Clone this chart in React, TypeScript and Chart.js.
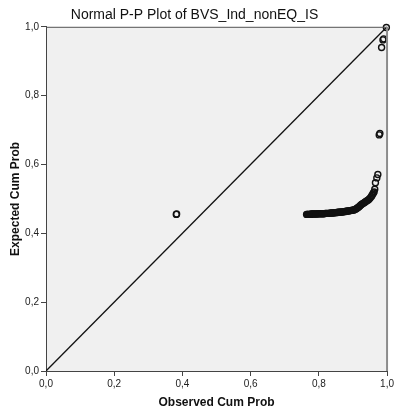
import { useEffect, useRef } from 'react';
import { Chart, registerables } from 'chart.js';

Chart.register(...registerables);

const chartTitle = 'Normal P-P Plot of BVS_Ind_nonEQ_IS';
const xAxisTitle = 'Observed Cum Prob';
const yAxisTitle = 'Expected Cum Prob';

const observedCumProb = [
  0.382, 0.383,
  0.764, 0.766, 0.768, 0.770, 0.772, 0.774, 0.776, 0.778, 0.780, 0.783,
  0.786, 0.789, 0.792, 0.795, 0.798, 0.801, 0.804, 0.807, 0.810, 0.813,
  0.816, 0.819, 0.822, 0.825, 0.828, 0.831, 0.834, 0.837, 0.840, 0.843,
  0.846, 0.849, 0.852, 0.855, 0.858, 0.861, 0.864, 0.867, 0.870, 0.873,
  0.876, 0.879, 0.882, 0.885, 0.888, 0.891, 0.894, 0.897, 0.900, 0.903,
  0.906, 0.909, 0.912, 0.915, 0.918, 0.921, 0.924, 0.927, 0.930, 0.933,
  0.936, 0.939, 0.942, 0.945, 0.948, 0.951, 0.954, 0.956, 0.958, 0.960,
  0.962, 0.964, 0.966, 0.970, 0.973, 0.977, 0.979, 0.984, 0.988, 0.990,
  0.998,
];
const expectedCumProb = [
  0.455, 0.456,
  0.455, 0.455, 0.455, 0.455, 0.455, 0.455, 0.455, 0.456, 0.456, 0.456,
  0.456, 0.456, 0.456, 0.456, 0.457, 0.457, 0.457, 0.457, 0.457, 0.457,
  0.457, 0.458, 0.458, 0.458, 0.458, 0.458, 0.459, 0.459, 0.459, 0.459,
  0.460, 0.460, 0.460, 0.461, 0.461, 0.461, 0.462, 0.462, 0.462, 0.463,
  0.463, 0.464, 0.464, 0.465, 0.465, 0.466, 0.466, 0.467, 0.467, 0.468,
  0.469, 0.471, 0.473, 0.475, 0.477, 0.480, 0.483, 0.485, 0.487, 0.489,
  0.491, 0.493, 0.495, 0.497, 0.500, 0.503, 0.507, 0.510, 0.514, 0.517,
  0.520, 0.528, 0.547, 0.561, 0.571, 0.686, 0.690, 0.940, 0.962, 0.965,
  0.998,
];
const referenceLineX = [0, 1];
const referenceLineY = [0, 1];
const axisMin = 0;
const axisMax = 1;
const tickStep = 0.2;

const fmt = (v: number) => v.toFixed(1).replace('.', ',');

export default function App() {
  const ref = useRef<HTMLCanvasElement>(null);

  useEffect(() => {
    document.body.style.margin = '0';
    const canvas = ref.current;
    if (!canvas) return;
    Chart.defaults.font.family = 'Arial, "Liberation Sans", sans-serif';

    const framePlugin = {
      id: 'framePlugin',
      beforeDraw(chart: any) {
        const { ctx, chartArea } = chart;
        ctx.save();
        ctx.fillStyle = '#ffffff';
        ctx.fillRect(0, 0, chart.width, chart.height);
        ctx.fillStyle = '#f0f0f0';
        ctx.fillRect(chartArea.left, chartArea.top, chartArea.right - chartArea.left, chartArea.bottom - chartArea.top);
        ctx.restore();
      },
      afterDraw(chart: any) {
        const { ctx, chartArea } = chart;
        ctx.save();
        ctx.strokeStyle = '#555555';
        ctx.lineWidth = 1;
        ctx.beginPath();
        ctx.moveTo(chartArea.left, chartArea.top + 0.5);
        ctx.lineTo(chartArea.right, chartArea.top + 0.5);
        ctx.stroke();
        ctx.strokeStyle = '#8c8c8c';
        ctx.lineWidth = 2;
        ctx.beginPath();
        ctx.moveTo(chartArea.right, chartArea.top);
        ctx.lineTo(chartArea.right, chartArea.bottom);
        ctx.stroke();
        ctx.restore();
      },
    };

    const points = observedCumProb.map((x, i) => ({ x, y: expectedCumProb[i] }));
    const line = referenceLineX.map((x, i) => ({ x, y: referenceLineY[i] }));

    const chart = new Chart(canvas, {
      type: 'scatter',
      data: {
        datasets: [
          {
            type: 'line',
            data: line,
            borderColor: '#111111',
            borderWidth: 1.3,
            pointRadius: 0,
            fill: false,
          } as any,
          {
            type: 'scatter',
            data: points,
            pointStyle: 'circle',
            pointRadius: 3,
            borderColor: '#111111',
            backgroundColor: 'rgba(0,0,0,0)',
            borderWidth: 1.4,
            clip: false,
          } as any,
        ],
      },
      options: {
        responsive: false,
        animation: false,
        layout: { padding: { left: 0, right: 7, top: 0, bottom: 0 } },
        plugins: {
          legend: { display: false },
          tooltip: { enabled: false },
          title: {
            display: true,
            text: chartTitle,
            color: '#111111',
            font: { size: 14, weight: 'normal' },
            padding: { top: 7, bottom: 3 },
          },
        },
        scales: {
          x: {
            type: 'linear',
            min: axisMin,
            max: axisMax,
            ticks: { stepSize: tickStep, callback: (v: any) => fmt(Number(v)), color: '#222222', font: { size: 10 }, padding: 2, maxRotation: 0 },
            grid: { drawOnChartArea: false, drawTicks: true, tickLength: 5, color: '#444444' },
            border: { display: true, color: '#444444', width: 1 },
            title: { display: true, text: xAxisTitle, color: '#111111', font: { size: 12, weight: 'bold' }, padding: { top: 0, bottom: 4 } },
            afterFit: (s: any) => { s.height = 43; },
          },
          y: {
            type: 'linear',
            min: axisMin,
            max: axisMax,
            ticks: { stepSize: tickStep, callback: (v: any) => fmt(Number(v)), color: '#222222', font: { size: 10 }, padding: 2 },
            grid: { drawOnChartArea: false, drawTicks: true, tickLength: 5, color: '#444444' },
            border: { display: true, color: '#444444', width: 1 },
            title: { display: true, text: yAxisTitle, color: '#111111', font: { size: 12, weight: 'bold' }, padding: { top: 8, bottom: 0 } },
            afterFit: (s: any) => { s.width = 46; },
          },
        },
      } as any,
      plugins: [framePlugin],
    });

    return () => chart.destroy();
  }, []);

  return <canvas ref={ref} width={396} height={414} style={{ display: 'block' }} />;
}
